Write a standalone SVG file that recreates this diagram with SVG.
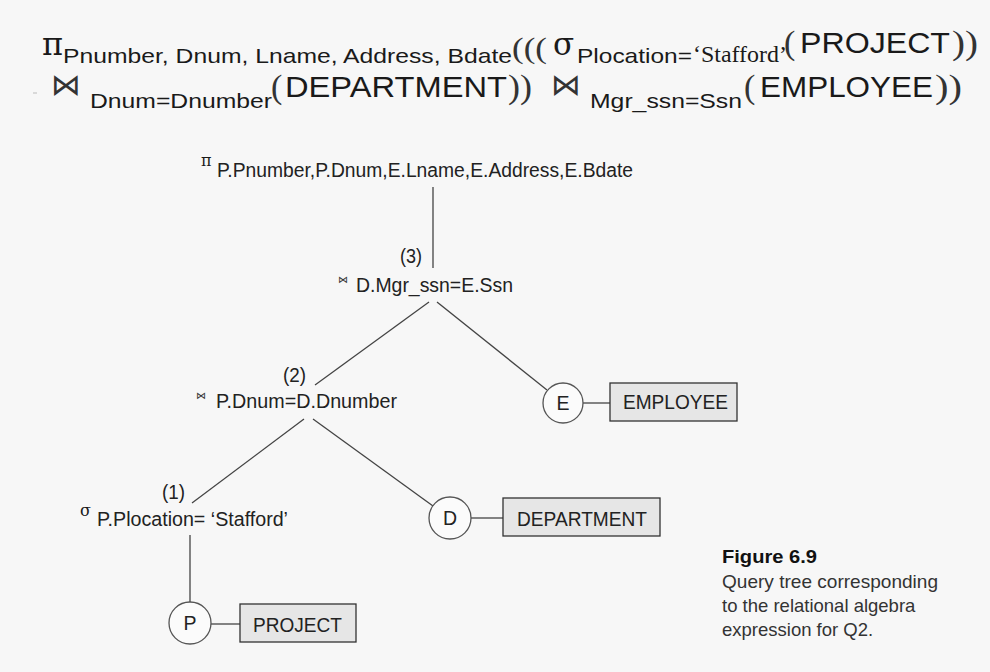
<svg xmlns="http://www.w3.org/2000/svg" width="990" height="672" viewBox="0 0 990 672">
<style>
.s{font-family:"Liberation Sans",Arial,sans-serif;fill:#1a1a1a}
.sf{font-family:"Liberation Serif","Times New Roman",serif;fill:#1a1a1a}
.g{font-family:"DejaVu Serif",serif;fill:#1a1a1a}
.p{font-family:"Liberation Serif","Times New Roman",serif;fill:#333;font-weight:normal}
.j{font-family:"DejaVu Sans",sans-serif;fill:#333}
.t{font-family:"Liberation Sans",Arial,sans-serif;fill:#222;font-size:19.5px}
.c{font-family:"Liberation Sans",Arial,sans-serif;fill:#333;font-size:18.5px}
.ln{stroke:#444;stroke-width:1.3;fill:none}
.circ{fill:#fbfbfb;stroke:#555;stroke-width:1.3}
.box{fill:#e6e6e6;stroke:#333;stroke-width:1.3}
</style>
<rect width="990" height="672" fill="#f7f7f7"/>
<g id="expression">
<text class="g" x="42" y="55" font-size="32">π</text>
<text class="s" x="63" y="63" font-size="21" textLength="449" lengthAdjust="spacingAndGlyphs">Pnumber, Dnum, Lname, Address, Bdate</text>
<text class="p" x="512" y="58" font-size="30" textLength="35" lengthAdjust="spacingAndGlyphs">(((</text>
<text class="g" x="553" y="55" font-size="31">σ</text>
<text class="s" x="577" y="63" font-size="21" textLength="115" lengthAdjust="spacingAndGlyphs">Plocation=</text>
<text class="sf" x="693" y="62" font-size="23" textLength="94" lengthAdjust="spacingAndGlyphs">‘Stafford’</text>
<text class="p" x="784" y="54" font-size="34">(</text>
<text class="s" x="800" y="53" font-size="30" textLength="150" lengthAdjust="spacingAndGlyphs">PROJECT</text>
<text class="p" x="952" y="54" font-size="34" textLength="26" lengthAdjust="spacingAndGlyphs">))</text>
<line x1="33" y1="93" x2="37" y2="93" stroke="#bbb" stroke-width="1"/>
<text class="j" x="51" y="95" font-size="30">⋈</text>
<text class="s" x="90" y="108" font-size="21" textLength="182" lengthAdjust="spacingAndGlyphs">Dnum=Dnumber</text>
<text class="p" x="271" y="98" font-size="34">(</text>
<text class="s" x="285" y="97" font-size="30" textLength="222" lengthAdjust="spacingAndGlyphs">DEPARTMENT</text>
<text class="p" x="508" y="98" font-size="34" textLength="24" lengthAdjust="spacingAndGlyphs">))</text>
<text class="j" x="551" y="95" font-size="30">⋈</text>
<text class="s" x="590" y="108" font-size="21" textLength="152" lengthAdjust="spacingAndGlyphs">Mgr_ssn=Ssn</text>
<text class="p" x="744" y="98" font-size="34">(</text>
<text class="s" x="760" y="97" font-size="30" textLength="173" lengthAdjust="spacingAndGlyphs">EMPLOYEE</text>
<text class="p" x="935" y="98" font-size="34" textLength="27" lengthAdjust="spacingAndGlyphs">))</text>
</g>
<g id="connectors">
<line class="ln" x1="433" y1="187" x2="433" y2="268"/>
<line class="ln" x1="429" y1="302" x2="315" y2="385"/>
<line class="ln" x1="437" y1="302" x2="547" y2="390"/>
<line class="ln" x1="304" y1="419" x2="192" y2="503"/>
<line class="ln" x1="313" y1="419" x2="433" y2="506"/>
<line class="ln" x1="190" y1="535" x2="190" y2="602"/>
<line class="ln" x1="211" y1="624" x2="240" y2="624"/>
<line class="ln" x1="471" y1="518" x2="503" y2="518"/>
<line class="ln" x1="583" y1="403" x2="610" y2="403"/>
</g>
<g id="project-node">
<text class="g" x="201" y="166" font-size="16">π</text>
<text class="t" x="217" y="177" textLength="416" lengthAdjust="spacingAndGlyphs">P.Pnumber,P.Dnum,E.Lname,E.Address,E.Bdate</text>
</g>
<g id="join3">
<text class="t" x="400" y="263" textLength="22" lengthAdjust="spacingAndGlyphs">(3)</text>
<text class="j" x="338" y="283" font-size="10">⋈</text>
<text class="t" x="356" y="292" textLength="157" lengthAdjust="spacingAndGlyphs">D.Mgr_ssn=E.Ssn</text>
</g>
<g id="join2">
<text class="t" x="283" y="382" textLength="23" lengthAdjust="spacingAndGlyphs">(2)</text>
<text class="j" x="196" y="399" font-size="10">⋈</text>
<text class="t" x="216" y="408" textLength="181" lengthAdjust="spacingAndGlyphs">P.Dnum=D.Dnumber</text>
</g>
<g id="select1">
<text class="t" x="162" y="499" textLength="23" lengthAdjust="spacingAndGlyphs">(1)</text>
<text class="g" x="80" y="516" font-size="16">σ</text>
<text class="t" x="97" y="526" textLength="191" lengthAdjust="spacingAndGlyphs">P.Plocation= ‘Stafford’</text>
</g>
<g id="node-E">
<circle class="circ" cx="563" cy="403" r="20"/>
<text class="t" x="563" y="410" text-anchor="middle">E</text>
</g>
<g id="node-EMPLOYEE">
<rect class="box" x="610" y="383" width="127" height="38"/>
<text class="t" x="623" y="409" textLength="105" lengthAdjust="spacingAndGlyphs">EMPLOYEE</text>
</g>
<g id="node-D">
<circle class="circ" cx="450" cy="518" r="21"/>
<text class="t" x="450" y="525" text-anchor="middle">D</text>
</g>
<g id="node-DEPARTMENT">
<rect class="box" x="503" y="498" width="157" height="38"/>
<text class="t" x="517" y="526" textLength="130" lengthAdjust="spacingAndGlyphs">DEPARTMENT</text>
</g>
<g id="node-P">
<circle class="circ" cx="190" cy="623" r="21"/>
<text class="t" x="190" y="630" text-anchor="middle">P</text>
</g>
<g id="node-PROJECT">
<rect class="box" x="240" y="604" width="116" height="38"/>
<text class="t" x="253" y="632" textLength="89" lengthAdjust="spacingAndGlyphs">PROJECT</text>
</g>
<g id="caption">
<text class="c" x="722" y="563" font-weight="bold" style="fill:#111" textLength="95" lengthAdjust="spacingAndGlyphs">Figure 6.9</text>
<text class="c" x="722" y="588" textLength="216" lengthAdjust="spacingAndGlyphs">Query tree corresponding</text>
<text class="c" x="722" y="612">to the relational algebra</text>
<text class="c" x="722" y="636">expression for Q2.</text>
</g>
</svg>
